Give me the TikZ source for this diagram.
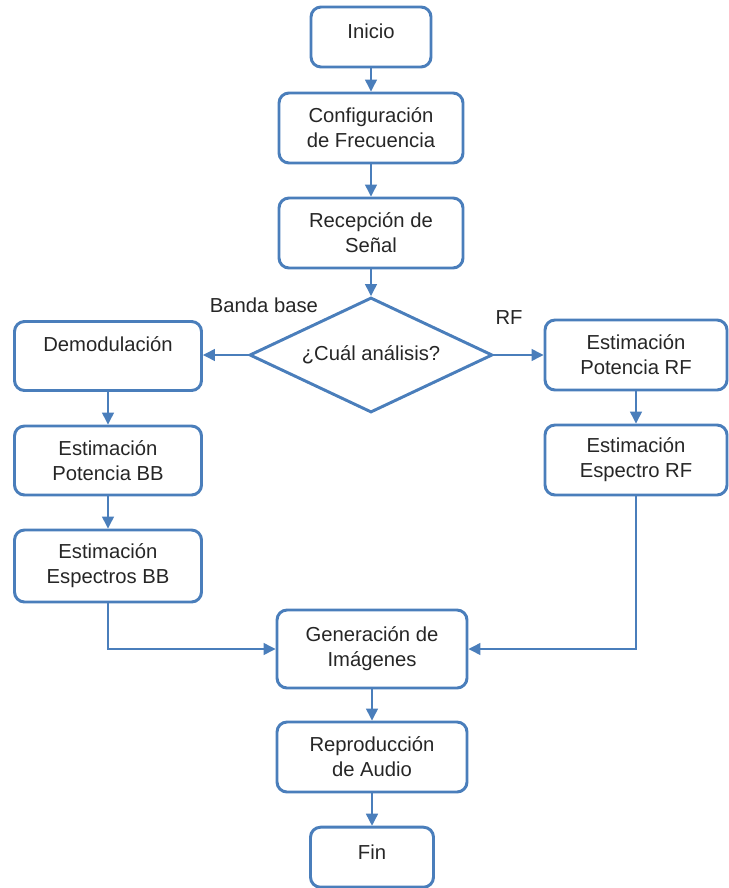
\documentclass[tikz,border=0pt]{standalone}
\usepackage{fontspec}
\setmainfont{Liberation Sans}
\usetikzlibrary{shapes.geometric,arrows.meta}
\definecolor{flujo}{HTML}{4A7EBB}
\tikzset{
	caja/.style={draw=flujo,line width=2.1pt,rounded corners=0.25cm,inner sep=0pt,align=center,text=black!85,font=\fontsize{14.4}{17.7}\selectfont},
	rombo/.style={diamond,draw=flujo,line width=2.1pt,aspect=2.1,inner sep=0pt,minimum width=6.075cm,minimum height=2.875cm,text=black!85,font=\fontsize{14.4}{17.7}\selectfont},
	etiqueta/.style={text=black!85,font=\fontsize{14.4}{17.7}\selectfont},
	flecha/.style={draw=flujo,line width=1pt,-{Triangle[length=3mm,width=3mm]}},
}
\begin{document}
\begin{tikzpicture}
\useasboundingbox (0,0) rectangle (18.2,-22.2);
% columna central
\node[caja,minimum width=3cm,minimum height=1.5cm] (inicio) at (9.275,-0.925) {\raisebox{8pt}{Inicio}};
\node[caja,minimum width=4.6cm,minimum height=1.75cm] (config) at (9.275,-3.2) {Configuración\\de Frecuencia};
\node[caja,minimum width=4.6cm,minimum height=1.75cm] (recep) at (9.275,-5.825) {Recepción de\\Señal};
\node[rombo] (analisis) at (9.275,-8.875) {¿Cuál análisis?};
\node[etiqueta] (bb) at (6.6,-7.625) {Banda base};
\node[etiqueta] (rf) at (12.725,-7.95) {RF};
% rama banda base
\node[caja,minimum width=4.675cm,minimum height=1.725cm] (demod) at (2.7,-8.9) {Demodulación\\\mbox{}};
\node[caja,minimum width=4.675cm,minimum height=1.725cm] (potbb) at (2.7,-11.5125) {Estimación\\Potencia BB};
\node[caja,minimum width=4.675cm,minimum height=1.8cm] (espbb) at (2.7,-14.15) {Estimación\\Espectros BB};
% rama RF
\node[caja,minimum width=4.55cm,minimum height=1.75cm] (potrf) at (15.9,-8.875) {Estimación\\Potencia RF};
\node[caja,minimum width=4.55cm,minimum height=1.75cm] (esprf) at (15.9,-11.5) {Estimación\\Espectro RF};
% final
\node[caja,minimum width=4.75cm,minimum height=1.95cm] (gen) at (9.3,-16.225) {Generación de\\Imágenes};
\node[caja,minimum width=4.75cm,minimum height=1.75cm] (repro) at (9.3,-18.925) {Reproducción\\de Audio};
\node[caja,minimum width=3.075cm,minimum height=1.5cm] (fin) at (9.3,-21.43) {\raisebox{7pt}{Fin}};

\draw[flecha] (inicio.south) -- (config.north);
\draw[flecha] (config.south) -- (recep.north);
\draw[flecha] (recep.south) -- (analisis.north);
\draw[flecha] (analisis.west) -- (demod.east|-analisis.west);
\draw[flecha] (analisis.east) -- (potrf.west|-analisis.east);
\draw[flecha] (demod.south) -- (potbb.north);
\draw[flecha] (potbb.south) -- (espbb.north);
\draw[flecha] (potrf.south) -- (esprf.north);
\draw[flecha] (espbb.south) |- (gen.west);
\draw[flecha] (esprf.south) |- (gen.east);
\draw[flecha] (gen.south) -- (repro.north);
\draw[flecha] (repro.south) -- (fin.north);
\end{tikzpicture}
\end{document}
